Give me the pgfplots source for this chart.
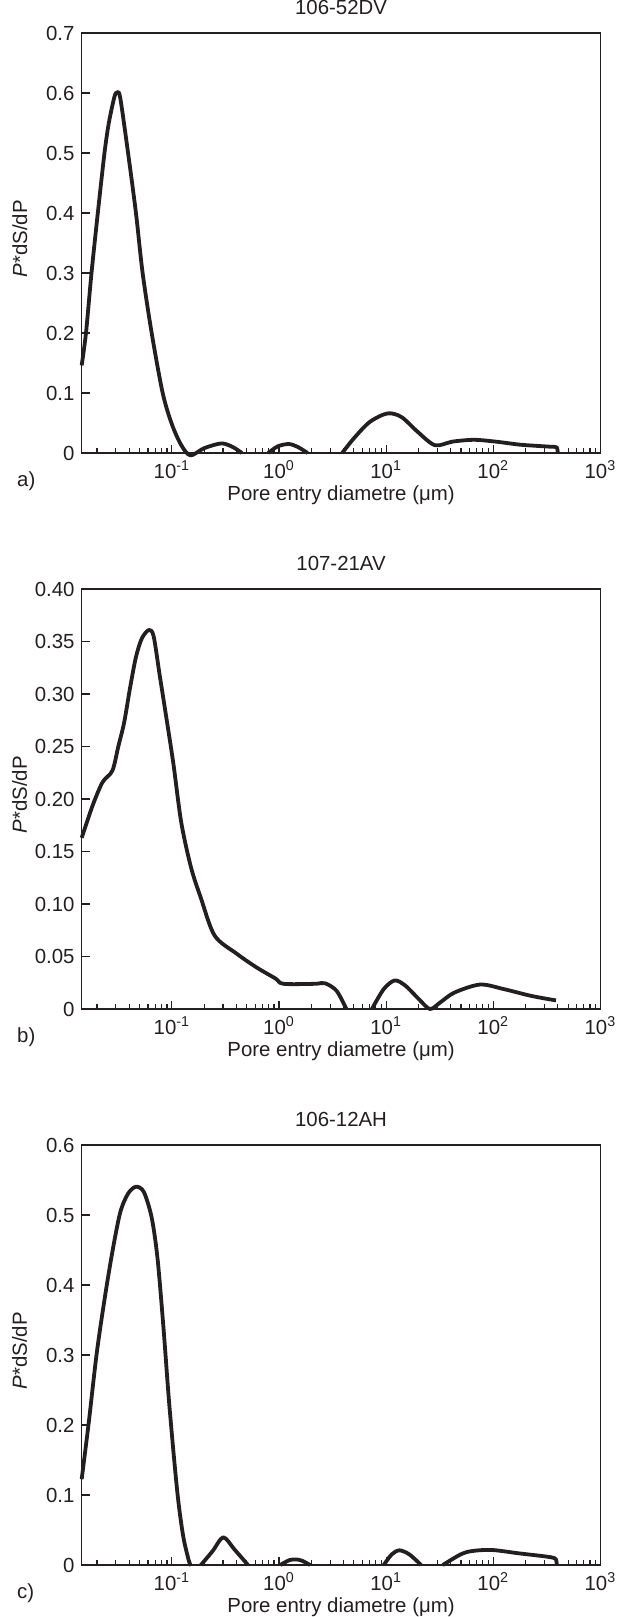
\documentclass[border=0pt]{standalone}
\usepackage{fontspec}
\setmainfont{Liberation Sans}
\usepackage{pgfplots}
\pgfplotsset{compat=1.18}
\definecolor{ink}{HTML}{231F20}
\tikzset{curve/.style={draw=ink, line width=1.9pt, smooth, line join=round, mark=none}}

\pgfplotsset{
  every axis/.append style={
    scale only axis, width=259.35pt, height=210pt,
    xmin=0.0144, xmax=1000, ymin=0, clip=false,
    axis line style={ink, line width=0.65pt},
    tick style={ink, line width=0.6pt},
    tick align=inside, xtick pos=left, ytick pos=left,
    major tick length=4pt, minor tick length=2.5pt,
    xtick={0.1,1,10,100,1000},
    xticklabels={10\textsuperscript{-1},10\textsuperscript{0},10\textsuperscript{1},10\textsuperscript{2},10\textsuperscript{3}},
    minor xtick={0.02,0.03,0.04,0.05,0.06,0.07,0.08,0.09,
                 0.2,0.3,0.4,0.5,0.6,0.7,0.8,0.9,
                 2,3,4,5,6,7,8,9,20,30,40,50,60,70,80,90,
                 200,300,400,500,600,700,800,900},
    xticklabel style={anchor=base, yshift=-12.5pt, text=ink},
    yticklabel style={text=ink},
    title style={at={(0.5,1)}, anchor=base, yshift=3.5pt, text=ink},
    xlabel={Pore entry diametre (μm)},
    xlabel style={at={(axis description cs:0.5,0)}, anchor=base, yshift=-23.6pt, text=ink},
    ylabel={\textit{P}*dS/dP},
    ylabel style={at={(axis description cs:-0.1195,0.51)}, anchor=center, text=ink},
  },
}

\begin{document}
\fontsize{10.2}{12.2}\selectfont
\begin{tikzpicture}
\useasboundingbox (0,0) rectangle (308.5pt,-808.5pt);

% a)
\begin{semilogxaxis}[at={(40.85pt,-226.5pt)}, anchor=south west,
  title={106-52DV}, ymax=0.7,
  ytick={0,0.1,0.2,0.3,0.4,0.5,0.6,0.7},
  yticklabels={0,0.1,0.2,0.3,0.4,0.5,0.6,0.7}]
\addplot[curve] coordinates {(0.01439,0.146) (0.01579,0.200) (0.01778,0.300) (0.02036,0.400)
  (0.0235,0.500) (0.02579,0.550) (0.02904,0.593) (0.03081,0.601) (0.03296,0.592)
  (0.03902,0.500) (0.04622,0.400) (0.05335,0.300) (0.0648,0.200) (0.0821,0.100)
  (0.1,0.048) (0.1225,0.013) (0.149,-0.004) (0.20,0.008)
  (0.29,0.016) (0.37,0.010) (0.45,0.0)};
\addplot[curve] coordinates {(0.794,0) (0.97,0.011) (1.234,0.015) (1.5,0.010) (1.85,0)};
\addplot[curve] coordinates {(3.89,0) (5.03,0.025) (7.06,0.052) (10.3,0.066) (13.9,0.060)
  (19.5,0.036) (28.5,0.013) (41.7,0.019) (66,0.022) (105,0.019) (175,0.014)
  (250,0.012) (340,0.0105) (390,0.0095) (400,0)};
\node[anchor=base west, xshift=-35.85pt, yshift=-16.5pt, text=ink] at (rel axis cs:0,0) {a)};
\end{semilogxaxis}

% b)
\begin{semilogxaxis}[at={(40.85pt,-504.5pt)}, anchor=south west,
  title={107-21AV}, ymax=0.40,
  ytick={0,0.05,0.10,0.15,0.20,0.25,0.30,0.35,0.40},
  yticklabels={0,0.05,0.10,0.15,0.20,0.25,0.30,0.35,0.40}]
\addplot[curve] coordinates {(0.01439,0.163) (0.01824,0.194) (0.02254,0.216) (0.02786,0.227)
  (0.03162,0.250) (0.03589,0.273) (0.04074,0.306) (0.04616,0.335) (0.05248,0.353)
  (0.0611,0.361) (0.0676,0.355) (0.0767,0.319) (0.0871,0.283) (0.1032,0.234)
  (0.1222,0.178) (0.1508,0.135) (0.1862,0.106) (0.2504,0.070) (0.399,0.053)
  (0.6088,0.040) (0.929,0.029) (1.1,0.024) (2.164,0.024) (2.673,0.0246)
  (3.444,0.0174) (4.255,0)};
\addplot[curve] coordinates {(7.37,0) (9.5,0.019) (12.03,0.0272) (15.1,0.0223) (20.3,0.0092)
  (25.7,0) (32.3,0.0066) (43.5,0.0157) (75.3,0.0233) (125,0.019) (226,0.0125)
  (385,0.0082)};
\node[anchor=base west, xshift=-35.85pt, yshift=-16.5pt, text=ink] at (rel axis cs:0,0) {b)};
\end{semilogxaxis}

% c)
\begin{semilogxaxis}[at={(40.85pt,-782.5pt)}, anchor=south west,
  title={106-12AH}, ymax=0.6,
  ytick={0,0.1,0.2,0.3,0.4,0.5,0.6},
  yticklabels={0,0.1,0.2,0.3,0.4,0.5,0.6}]
\addplot[curve] coordinates {(0.01439,0.1226) (0.01675,0.2033) (0.01983,0.301) (0.0235,0.379)
  (0.02786,0.4476) (0.03296,0.5037) (0.03902,0.5306) (0.04622,0.5404) (0.0547,0.533)
  (0.0648,0.4964) (0.0735,0.4378) (0.0834,0.34) (0.0948,0.2277) (0.1122,0.1055)
  (0.1273,0.042) (0.1445,0.0054) (0.1509,0)};
\addplot[curve] coordinates {(0.1865,0) (0.2404,0.02) (0.302,0.0396) (0.3826,0.0225) (0.514,0)};
\addplot[curve] coordinates {(1.026,0) (1.25,0.007) (1.45,0.008) (1.65,0.006) (1.95,0)};
\addplot[curve] coordinates {(9.5,0) (11.25,0.015) (13.3,0.021) (16.5,0.0151) (21.2,0)};
\addplot[curve] coordinates {(33.8,0) (49.5,0.0151) (63.6,0.020) (97,0.0215) (175,0.0166)
  (291,0.0127) (360,0.0105) (385,0.008) (392,0)};
\node[anchor=base west, xshift=-35.85pt, yshift=-16.5pt, text=ink] at (rel axis cs:0,0) {c)};
\end{semilogxaxis}
\end{tikzpicture}
\end{document}
